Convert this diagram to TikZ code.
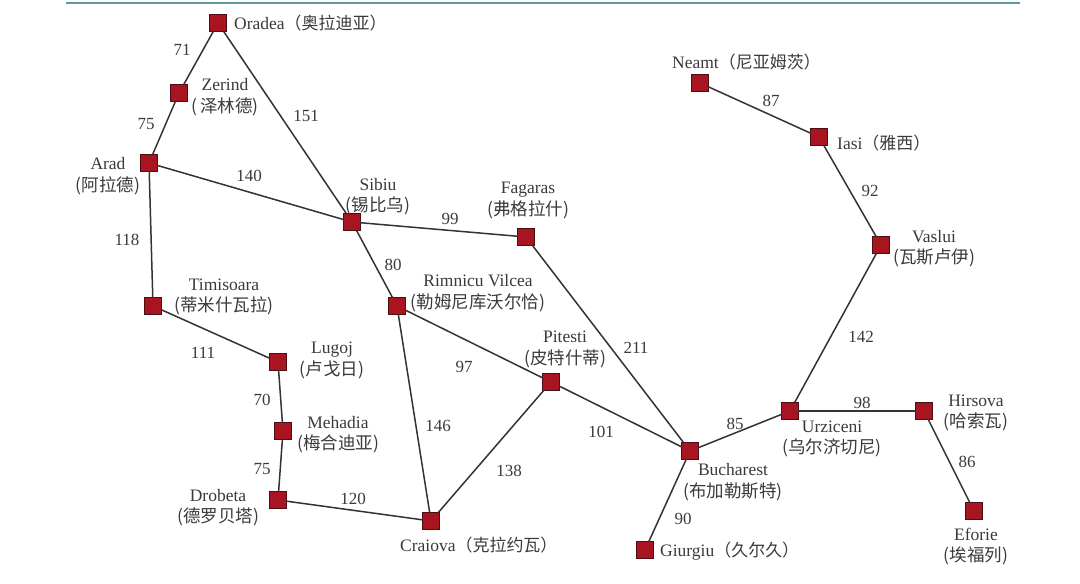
\documentclass[tikz,border=0pt]{standalone}
\usepackage{fontspec}
\setmainfont{Liberation Serif}
\newfontfamily\cjkfam{Noto Sans CJK SC}[Scale=1.0]
\newfontfamily\cjkinl{Noto Sans CJK SC}[Scale=0.97]
\newcommand{\zh}[1]{{\cjkfam #1}}
\newcommand{\zi}[1]{{\cjkinl #1}}
\definecolor{cityred}{HTML}{A8141F}
\definecolor{cityedge}{HTML}{4A0F14}
\definecolor{inkgray}{HTML}{3A3A3A}
\definecolor{rulecol}{HTML}{5E9A9A}
\tikzset{
  city/.style={rectangle,draw=cityedge,fill=cityred,line width=1pt,minimum size=16.5pt,inner sep=0pt,outer sep=0pt},
  road/.style={draw=black!80,line width=1.5pt},
  cname/.style={text=inkgray,font=\fontsize{17.5}{21.5}\selectfont,align=center,inner sep=0pt},
  wt/.style={text=inkgray,font=\fontsize{17}{20}\selectfont,inner sep=0pt},
}
\begin{document}
\begin{tikzpicture}[x=1pt,y=-1pt]
\useasboundingbox (0,0) rectangle (1080,584);
\coordinate (ruleL) at (66,3);
\coordinate (ruleR) at (1020,3);
\draw[rulecol,line width=1.5pt] (ruleL) -- (ruleR);
% cities
\node[city] (oradea) at (218,23) {};
\node[city] (zerind) at (179,93) {};
\node[city] (arad) at (149,163) {};
\node[city] (sibiu) at (352,222) {};
\node[city] (fagaras) at (526,237) {};
\node[city] (rimnicu) at (397,306) {};
\node[city] (pitesti) at (551,382) {};
\node[city] (timisoara) at (153,306) {};
\node[city] (lugoj) at (278,362) {};
\node[city] (mehadia) at (283,431) {};
\node[city] (drobeta) at (278,500) {};
\node[city] (craiova) at (431,521) {};
\node[city] (bucharest) at (690,451) {};
\node[city] (urziceni) at (790,411) {};
\node[city] (hirsova) at (924,411) {};
\node[city] (eforie) at (974,511) {};
\node[city] (giurgiu) at (645,550) {};
\node[city] (neamt) at (700,83) {};
\node[city] (iasi) at (819,137) {};
\node[city] (vaslui) at (881,245) {};
% roads
\foreach \a/\b in {oradea/zerind,zerind/arad,oradea/sibiu,arad/sibiu,arad/timisoara,sibiu/fagaras,sibiu/rimnicu,fagaras/bucharest,rimnicu/pitesti,rimnicu/craiova,pitesti/bucharest,pitesti/craiova,timisoara/lugoj,lugoj/mehadia,mehadia/drobeta,drobeta/craiova,bucharest/urziceni,bucharest/giurgiu,urziceni/hirsova,urziceni/vaslui,hirsova/eforie,vaslui/iasi,iasi/neamt}
  \draw[road] (\a) -- (\b);
% names
\node[cname,anchor=west] (lOradea) at (234,23) {Oradea\zi{（奥拉迪亚）}};
\node[cname] (lZerind) at (225,97) {Zerind\\\zh{(\,泽林德)}};
\node[cname] (lArad) at (108,176) {Arad\\\zh{(阿拉德)}};
\node[cname] (lSibiu) at (378,196.5) {Sibiu\\\zh{(锡比乌)}};
\node[cname] (lFagaras) at (528,200.5) {Fagaras\\\zh{(弗格拉什)}};
\node[cname] (lRimnicu) at (478,293) {Rimnicu Vilcea\\\zh{(勒姆尼库沃尔恰)}};
\node[cname] (lPitesti) at (565,349.5) {Pitesti\\\zh{(皮特什蒂)}};
\node[cname] (lTimisoara) at (224,297) {Timisoara\\\zh{(蒂米什瓦拉)}};
\node[cname] (lLugoj) at (332,360.5) {Lugoj\\\zh{(卢戈日)}};
\node[cname] (lMehadia) at (338,434.5) {Mehadia\\\zh{(梅合迪亚)}};
\node[cname] (lDrobeta) at (218,507.5) {Drobeta\\\zh{(德罗贝塔)}};
\node[cname,anchor=west] (lCraiova) at (400,545) {Craiova\zi{（克拉约瓦）}};
\node[cname] (lBucharest) at (733,482) {Bucharest\\\zh{(布加勒斯特)}};
\node[cname] (lUrziceni) at (832,439) {Urziceni\\\zh{(乌尔济切尼)}};
\node[cname] (lHirsova) at (976,413) {Hirsova\\\zh{(哈索瓦)}};
\node[cname] (lEforie) at (976,546.5) {Eforie\\\zh{(埃福列)}};
\node[cname,anchor=west] (lGiurgiu) at (660,551) {Giurgiu\zi{（久尔久）}};
\node[cname,anchor=west] (lNeamt) at (672,62) {Neamt\zi{（尼亚姆茨）}};
\node[cname,anchor=west] (lIasi) at (837,143) {Iasi\zi{（雅西）}};
\node[cname] (lVaslui) at (934,248.5) {Vaslui\\\zh{(瓦斯卢伊)}};
% weights
\node[wt] (w1) at (182,49.5) {71};
\node[wt] (w2) at (146,124.5) {75};
\node[wt] (w3) at (306,115.5) {151};
\node[wt] (w4) at (249,175.5) {140};
\node[wt] (w5) at (127,239.5) {118};
\node[wt] (w6) at (450,218.5) {99};
\node[wt] (w7) at (393,264.5) {80};
\node[wt] (w8) at (636,347.5) {211};
\node[wt] (w9) at (464,366.5) {97};
\node[wt] (w10) at (203,352.5) {111};
\node[wt] (w11) at (262,399.5) {70};
\node[wt] (w12) at (438,425.5) {146};
\node[wt] (w13) at (601,431.5) {101};
\node[wt] (w14) at (509,470.5) {138};
\node[wt] (w15) at (262,469.5) {75};
\node[wt] (w16) at (353,498.5) {120};
\node[wt] (w17) at (735,423.5) {85};
\node[wt] (w18) at (862,402.5) {98};
\node[wt] (w19) at (967,461.5) {86};
\node[wt] (w20) at (683,518.5) {90};
\node[wt] (w21) at (771,100.5) {87};
\node[wt] (w22) at (870,190.5) {92};
\node[wt] (w23) at (861,336.5) {142};
\end{tikzpicture}
\end{document}
